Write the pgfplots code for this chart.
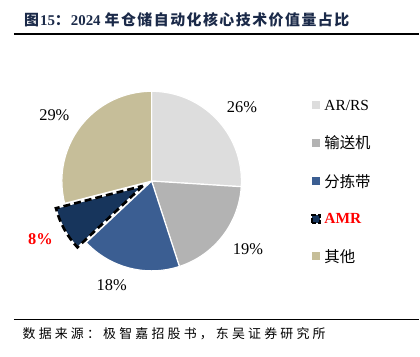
\documentclass[border=0pt]{standalone}
\usepackage{pgfplots}
\pgfplotsset{compat=1.18}
\usepackage{fontspec}
\setmainfont{Liberation Serif}
\newfontfamily\cjk{Noto Sans CJK SC}
\makeatletter
\def\spacedkern{1.5bp}
\def\sp@loop#1{\ifx#1\sp@end\else#1\kern\spacedkern\expandafter\sp@loop\fi}
\def\spaced#1{\sp@loop#1\sp@end}
\makeatother
\definecolor{cA}{RGB}{221,221,221}
\definecolor{cB}{RGB}{179,179,179}
\definecolor{cC}{RGB}{59,94,146}
\definecolor{cD}{RGB}{23,53,92}
\definecolor{cE}{RGB}{198,190,153}
\definecolor{titlecol}{RGB}{27,42,73}
\begin{document}
\begin{tikzpicture}
\begin{axis}[x=1bp,y=1bp,xmin=0,xmax=420,ymin=0,ymax=357,hide axis,clip=false,scale only axis]
\path (axis cs:0,0) rectangle (axis cs:420,357);
% pie: values in percent, clockwise from top
\pgfplotsextra{%
  \gdef\curang{90}%
  \foreach \v/\c/\ex in {26/cA/0,19/cB/0,18/cC/0,8/cD/10,29/cE/0}{%
    \pgfmathsetmacro\endang{\curang-3.6*\v}%
    \pgfmathsetmacro\midang{(\curang+\endang)/2}%
    \pgfmathsetmacro\cx{152+\ex*cos(\midang)}%
    \pgfmathsetmacro\cy{175.5+\ex*sin(\midang)}%
    \fill[\c,draw=white,line width=1.2bp,line join=round] (axis cs:\cx,\cy) -- ++(\curang:90bp) arc[start angle=\curang,end angle=\endang,radius=90bp] -- cycle;
    \ifdim\ex pt>0pt \xdef\amrS{\curang}\xdef\amrE{\endang}\xdef\amrx{\cx}\xdef\amry{\cy}\fi
    \xdef\curang{\endang}%
  }%
  \draw[black,line width=2.6bp,dash pattern=on 7bp off 4bp,line join=miter] (axis cs:\amrx,\amry) -- ++(\amrS:90bp) arc[start angle=\amrS,end angle=\amrE,radius=90bp] -- cycle;
}
% percentage labels
\node[font=\fontsize{16.5}{18}\selectfont] at (axis cs:242.5,250) {26\%};
\node[font=\fontsize{16.5}{18}\selectfont] at (axis cs:248.5,107) {19\%};
\node[font=\fontsize{16.5}{18}\selectfont] at (axis cs:112,71) {18\%};
\node[font=\fontsize{16.5}{18}\selectfont\bfseries,text=red] at (axis cs:40.5,117) {8\%};
\node[font=\fontsize{16.5}{18}\selectfont] at (axis cs:54.5,242) {29\%};
% legend
\fill[cA] (axis cs:313,247.3) rectangle (axis cs:321,255.3);
\fill[cB] (axis cs:313,210) rectangle (axis cs:321,218);
\fill[cC] (axis cs:313,171.3) rectangle (axis cs:321,179.3);
\fill[cD,draw=black,line width=1.8bp,dash pattern=on 5bp off 2bp] (axis cs:313,133.5) rectangle (axis cs:321,141.5);
\fill[cE] (axis cs:313,96) rectangle (axis cs:321,104);
\node[anchor=west,inner sep=0pt,font=\fontsize{15.5}{18}\selectfont] at (axis cs:325,251.3) {AR/RS};
\node[anchor=west,inner sep=0pt,font=\fontsize{15.5}{18}\selectfont\cjk] at (axis cs:325,214) {输送机};
\node[anchor=west,inner sep=0pt,font=\fontsize{15.5}{18}\selectfont\cjk] at (axis cs:325,175.3) {分拣带};
\node[anchor=west,inner sep=0pt,font=\fontsize{15.5}{18}\selectfont\bfseries,text=red] at (axis cs:325,138) {AMR};
\node[anchor=west,inner sep=0pt,font=\fontsize{15.5}{18}\selectfont\cjk] at (axis cs:325,100) {其他};
% title and source
\node[anchor=west,inner sep=0pt,text=titlecol] at (axis cs:24,337) {\fontsize{15}{17}\selectfont\bfseries{\cjk 图}\kern1bp 15{\cjk ：}\kern1bp 2024\kern4bp{\cjk\spaced{年仓储自动化核心技术价值量占比}}};
\draw[line width=2bp] (axis cs:14,322.5) -- (axis cs:420,322.5);
\draw[line width=1.5bp] (axis cs:14,36.5) -- (axis cs:420,36.5);
\node[anchor=west,inner sep=0pt] at (axis cs:22.5,22) {\fontsize{13}{15}\selectfont\cjk\def\spacedkern{3.2bp}\spaced{数据来源：极智嘉招股书，东吴证券研究所}};
\end{axis}
\end{tikzpicture}
\end{document}
